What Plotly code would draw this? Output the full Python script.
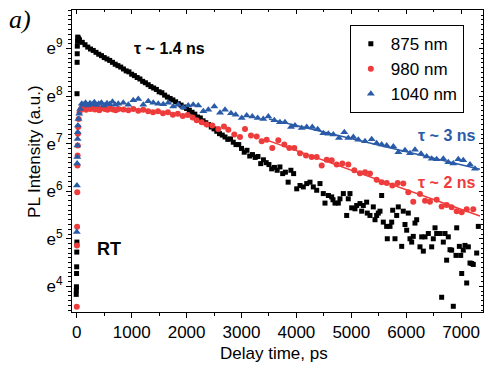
import plotly.graph_objects as go

# ---------------- data (ln of PL intensity vs delay time in ps) ----------------
t_875 = [-10, -8, -6, -4, -2, 0, 2, 4, 6, 8, 10, 14, 18, 25, 35,
         50, 100, 150, 200, 250, 300, 350, 400, 450, 500, 550, 600, 650, 700, 750,
         800, 850, 900, 950, 1000, 1050, 1100, 1150, 1200, 1250, 1300, 1350, 1400,
         1450, 1500, 1550, 1600, 1650, 1700, 1750, 1800, 1850, 1900, 1950, 2000,
         2050, 2100, 2150, 2200, 2250, 2300, 2350, 2400, 2450, 2500, 2550, 2600,
         2650, 2700, 2750, 2800, 2850, 2900, 2950,
         3000, 3050, 3100, 3150, 3200, 3250, 3300, 3350, 3400, 3450, 3500, 3550,
         3600, 3650, 3700, 3750, 3800, 3850, 3900, 3950,
         4006, 4066, 4126, 4188, 4248, 4308, 4370, 4430, 4490, 4521, 4582, 4643,
         4667, 4703, 4764, 4794, 4855, 4916, 4945, 4976, 5007, 5067, 5098, 5158,
         5189, 5219, 5280, 5291, 5340, 5401, 5432, 5462, 5492, 5523, 5553, 5583,
         5644, 5656, 5705, 5736, 5754, 5796, 5827, 5856, 5918, 5947, 5978, 6009,
         6038, 6069, 6100, 6129, 6160, 6191, 6251, 6282, 6312, 6343, 6403, 6464,
         6494, 6525, 6555, 6616, 6646, 6676, 6707, 6737, 6767, 6798, 6828, 6858,
         6907, 6920, 6968, 6993, 7011, 7040, 7071, 7102, 7132, 7162, 7193, 7222,
         7284, 7314]
ln_875 = [3.83, 3.92, 3.99, 4.27, 4.41, 4.72, 4.93, 8.05, 8.71, 8.89, 9.05, 9.15, 9.24, 9.22, 9.20,
          9.18, 9.13, 9.08, 9.03, 8.99, 8.96, 8.92, 8.88, 8.85, 8.81, 8.78, 8.75, 8.71, 8.67, 8.64,
          8.61, 8.57, 8.53, 8.51, 8.46, 8.43, 8.39, 8.36, 8.31, 8.28, 8.24, 8.20, 8.17,
          8.14, 8.09, 8.07, 8.02, 7.98, 7.95, 7.92, 7.88, 7.84, 7.81, 7.77, 7.74,
          7.70, 7.66, 7.62, 7.56, 7.54, 7.48, 7.44, 7.40, 7.35, 7.31, 7.26, 7.21,
          7.18, 7.14, 7.09, 7.10, 7.03, 6.98, 6.98,
          6.90, 6.82, 6.86, 6.74, 6.77, 6.71, 6.73, 6.58, 6.66, 6.60, 6.56, 6.47,
          6.50, 6.44, 6.51, 6.37, 6.40, 6.19, 6.44, 6.37,
          6.05, 6.12, 6.09, 6.16, 6.19, 6.09, 6.02, 6.16, 5.95, 5.75, 5.91, 5.88,
          5.82, 5.75, 5.75, 5.84, 5.95, 5.49, 5.84, 5.95, 5.65, 5.63, 5.70, 5.74,
          5.58, 5.70, 5.77, 5.54, 5.49, 5.67, 5.40, 5.49, 5.54, 5.58, 5.91, 5.35,
          5.26, 5.00, 5.26, 5.35, 5.60, 5.00, 5.49, 5.67, 4.84, 5.58, 5.30, 5.18,
          5.54, 5.00, 4.93, 5.05, 5.33, 5.40, 4.83, 5.04, 4.74, 5.04, 5.11, 4.83,
          5.00, 5.23, 5.11, 5.11, 3.77, 4.93, 5.11, 4.55, 5.04, 4.77, 4.76, 3.58,
          4.65, 5.23, 4.84, 4.65, 4.27, 4.76, 4.86, 4.07, 4.83, 4.49, 4.48, 4.46,
          4.70, 5.26]

t_980 = [0, 3, 6, 9, 12, 15, 18, 21, 25, 35, 50, 70, 95,
         130, 170, 210, 250, 290, 330, 370, 410, 460, 510, 560, 610, 660, 710, 760,
         850, 940, 1030, 1120, 1210, 1300, 1390, 1480, 1570, 1660, 1750, 1840, 1930,
         2020, 2110, 2184, 2275, 2366, 2469, 2578, 2681, 2760, 2869, 2973, 3064,
         3173, 3277, 3368, 3459, 3561, 3671, 3780, 3871, 3962, 4066, 4175, 4279,
         4370, 4461, 4552, 4643, 4734, 4837, 4946, 5055, 5158, 5250, 5340, 5462,
         5553, 5645, 5747, 5845, 5947, 6038, 6129, 6251, 6343, 6433, 6555, 6646,
         6737, 6828, 6920, 7011, 7102, 7222]
ln_980 = [3.57, 4.86, 5.25, 5.98, 6.54, 6.75, 6.96, 7.21, 7.35, 7.52, 7.66, 7.72, 7.76,
          7.74, 7.71, 7.76, 7.73, 7.75, 7.72, 7.74, 7.70, 7.75, 7.73, 7.71, 7.74, 7.72, 7.70, 7.73,
          7.72, 7.70, 7.73, 7.69, 7.71, 7.68, 7.66, 7.68, 7.64, 7.66, 7.61, 7.63, 7.58,
          7.60, 7.55, 7.49, 7.45, 7.40, 7.38, 7.31, 7.36, 7.29, 7.19, 7.14, 7.31,
          7.17, 7.15, 7.05, 7.08, 6.91, 7.07, 6.98, 6.91, 6.91, 6.80, 6.75, 6.72,
          6.72, 6.54, 6.66, 6.65, 6.56, 6.58, 6.56, 6.44, 6.38, 6.40, 6.37, 6.24,
          6.19, 6.17, 6.12, 6.17, 6.16, 5.98, 5.78, 5.94, 5.80, 5.78, 5.82, 5.68,
          5.71, 5.66, 5.58, 5.56, 5.62, 5.62]

t_1040 = [0, 3, 6, 9, 12, 15, 18, 21, 30, 45, 65, 90,
          120, 160, 200, 240, 280, 320, 360, 400, 450, 500, 550, 600, 650, 700,
          756, 847, 938, 1029, 1120, 1211, 1302, 1393, 1484, 1575, 1666, 1757, 1848,
          1939, 2030, 2121, 2213, 2305, 2396, 2505, 2609, 2700, 2809, 2894, 3004,
          3095, 3197, 3295, 3397, 3489, 3598, 3701, 3792, 3902, 3975, 4097, 4188,
          4290, 4388, 4490, 4582, 4673, 4776, 4873, 4946, 5037, 5128, 5250, 5371,
          5462, 5553, 5645, 5766, 5857, 5978, 6069, 6160, 6270, 6373, 6464, 6555,
          6676, 6767, 6858, 6949, 7040, 7162, 7253]
ln_1040 = [5.14, 6.12, 6.58, 6.72, 6.96, 7.10, 7.24, 7.38, 7.52, 7.63, 7.73, 7.84,
           7.82, 7.86, 7.80, 7.85, 7.83, 7.87, 7.81, 7.84, 7.86, 7.80, 7.85, 7.83, 7.88, 7.82,
           7.84, 7.86, 7.82, 7.91, 7.94, 7.82, 7.89, 7.86, 7.84, 7.83, 7.86, 7.78, 7.82,
           7.76, 7.80, 7.82, 7.80, 7.68, 7.71, 7.78, 7.65, 7.71, 7.64, 7.61, 7.54,
           7.59, 7.57, 7.54, 7.52, 7.57, 7.49, 7.45, 7.45, 7.35, 7.38, 7.33, 7.35,
           7.35, 7.30, 7.22, 7.21, 7.19, 7.12, 7.24, 7.12, 7.14, 7.08, 7.05, 7.09,
           7.01, 6.98, 6.96, 6.94, 6.82, 6.86, 6.80, 6.87, 6.79, 6.73, 6.68, 6.67,
           6.68, 6.61, 6.58, 6.67, 6.65, 6.56, 6.47]

fit_980_t = [3450, 7344]
fit_980_ln = [7.08, 5.48]
fit_1040_t = [3500, 7344]
fit_1040_ln = [7.52, 6.46]

x_tick_vals = [0, 1000, 2000, 3000, 4000, 5000, 6000, 7000]
x_tick_text = ["0", "1000", "2000", "3000", "4000", "5000", "6000", "7000"]
y_tick_vals = [4, 5, 6, 7, 8, 9]
y_tick_text = ["e<sup>4</sup>", "e<sup>5</sup>", "e<sup>6</sup>", "e<sup>7</sup>",
               "e<sup>8</sup>", "e<sup>9</sup>"]

series_names = ["875 nm", "980 nm", "1040 nm"]

# ---------------- styling ----------------
BLACK = "#000000"
RED = "#EE3B3B"
BLUE = "#2A5BA8"
FONT = "Liberation Sans, Arial, sans-serif"
X_RANGE = [-87, 7399]
Y_RANGE = [3.46, 9.81]

fig = go.Figure()

fig.add_trace(go.Scatter(x=t_875, y=ln_875, mode="markers", name=series_names[0],
                         marker=dict(symbol="square", size=5, color=BLACK, line=dict(width=0))))
fig.add_trace(go.Scatter(x=t_980, y=ln_980, mode="markers", name=series_names[1],
                         marker=dict(symbol="circle", size=6, color=RED, line=dict(width=0))))
fig.add_trace(go.Scatter(x=t_1040, y=ln_1040, mode="markers", name=series_names[2],
                         marker=dict(symbol="triangle-up", size=7, color=BLUE, line=dict(width=0))))
fig.add_trace(go.Scatter(x=fit_980_t, y=fit_980_ln, mode="lines", showlegend=False,
                         line=dict(color=RED, width=1.5)))
fig.add_trace(go.Scatter(x=fit_1040_t, y=fit_1040_ln, mode="lines", showlegend=False,
                         line=dict(color=BLUE, width=1.5)))
# dummy trace to activate mirrored (inside-tick) axes
fig.add_trace(go.Scatter(x=[None], y=[None], xaxis="x2", yaxis="y2", showlegend=False,
                         hoverinfo="skip"))

common_axis = dict(showgrid=False, zeroline=False, showline=True, linecolor=BLACK,
                   linewidth=1, tickcolor=BLACK, tickwidth=1, automargin=False,
                   tickfont=dict(family=FONT, size=17, color=BLACK))

fig.update_layout(
    width=484, height=367,
    margin=dict(l=72, r=1, t=10, b=55, autoexpand=False),
    paper_bgcolor="white", plot_bgcolor="white",
    font=dict(family=FONT, color=BLACK),
    xaxis=dict(range=X_RANGE, tickmode="array", tickvals=x_tick_vals, ticktext=x_tick_text,
               ticks="outside", ticklen=5, mirror=True,
               minor=dict(dtick=500, tick0=0, ticks="outside", ticklen=3,
                          tickcolor=BLACK, tickwidth=1),
               **common_axis),
    yaxis=dict(range=Y_RANGE, tickmode="array", tickvals=y_tick_vals, ticktext=y_tick_text,
               ticks="outside", ticklen=5, mirror=True,
               minor=dict(dtick=0.1, tick0=0, ticks="outside", ticklen=3,
                          tickcolor=BLACK, tickwidth=1),
               **common_axis),
    xaxis2=dict(range=X_RANGE, overlaying="x", side="top", anchor="y2", automargin=False,
                tickmode="array", tickvals=x_tick_vals, showticklabels=False,
                ticks="inside", ticklen=4, showgrid=False, zeroline=False,
                tickcolor=BLACK, showline=False,
                minor=dict(dtick=500, tick0=0, ticks="inside", ticklen=2, tickcolor=BLACK)),
    yaxis2=dict(range=Y_RANGE, overlaying="y", side="right", anchor="x2", automargin=False,
                tickmode="array", tickvals=y_tick_vals, showticklabels=False,
                ticks="inside", ticklen=4, showgrid=False, zeroline=False,
                tickcolor=BLACK, showline=False,
                minor=dict(dtick=0.1, tick0=0, ticks="inside", ticklen=2, tickcolor=BLACK)),
    legend=dict(x=0.676, y=0.95, xanchor="left", yanchor="top",
                bgcolor="white", bordercolor=BLACK, borderwidth=1,
                font=dict(family=FONT, size=17, color=BLACK),
                tracegroupgap=0, itemwidth=30),
    showlegend=True,
)

annotations = [
    dict(text="<b>τ ~ 1.4 ns</b>", x=1680, y=9.0, xref="x", yref="y", showarrow=False,
         xanchor="center", yanchor="middle",
         font=dict(family=FONT, size=16, color=BLACK)),
    dict(text="<b>τ ~ 3 ns</b>", x=6725, y=7.17, xref="x", yref="y", showarrow=False,
         xanchor="center", yanchor="middle",
         font=dict(family=FONT, size=16, color=BLUE)),
    dict(text="<b>τ ~ 2 ns</b>", x=6725, y=6.19, xref="x", yref="y", showarrow=False,
         xanchor="center", yanchor="middle",
         font=dict(family=FONT, size=16, color=RED)),
    dict(text="<b>RT</b>", x=587, y=4.78, xref="x", yref="y", showarrow=False,
         xanchor="center", yanchor="middle",
         font=dict(family=FONT, size=18, color=BLACK)),
    dict(text="<i>a)</i>", x=-0.127, y=0.967, xref="paper", yref="paper", showarrow=False,
         xanchor="center", yanchor="middle",
         font=dict(family="Liberation Serif, Times New Roman, serif", size=26, color=BLACK)),
    dict(text="PL Intensity (a.u.)", x=-0.09, y=0.53, xref="paper", yref="paper",
         showarrow=False, textangle=-90, xanchor="center", yanchor="middle",
         font=dict(family=FONT, size=17, color=BLACK)),
    dict(text="Delay time, ps", x=0.491, y=-0.136, xref="paper", yref="paper",
         showarrow=False, xanchor="center", yanchor="middle",
         font=dict(family=FONT, size=17, color=BLACK)),
]
fig.update_layout(annotations=annotations)

fig.write_html("out.html", config={"displayModeBar": False},
               post_script="document.body.style.margin='0';document.body.style.padding='0';")
